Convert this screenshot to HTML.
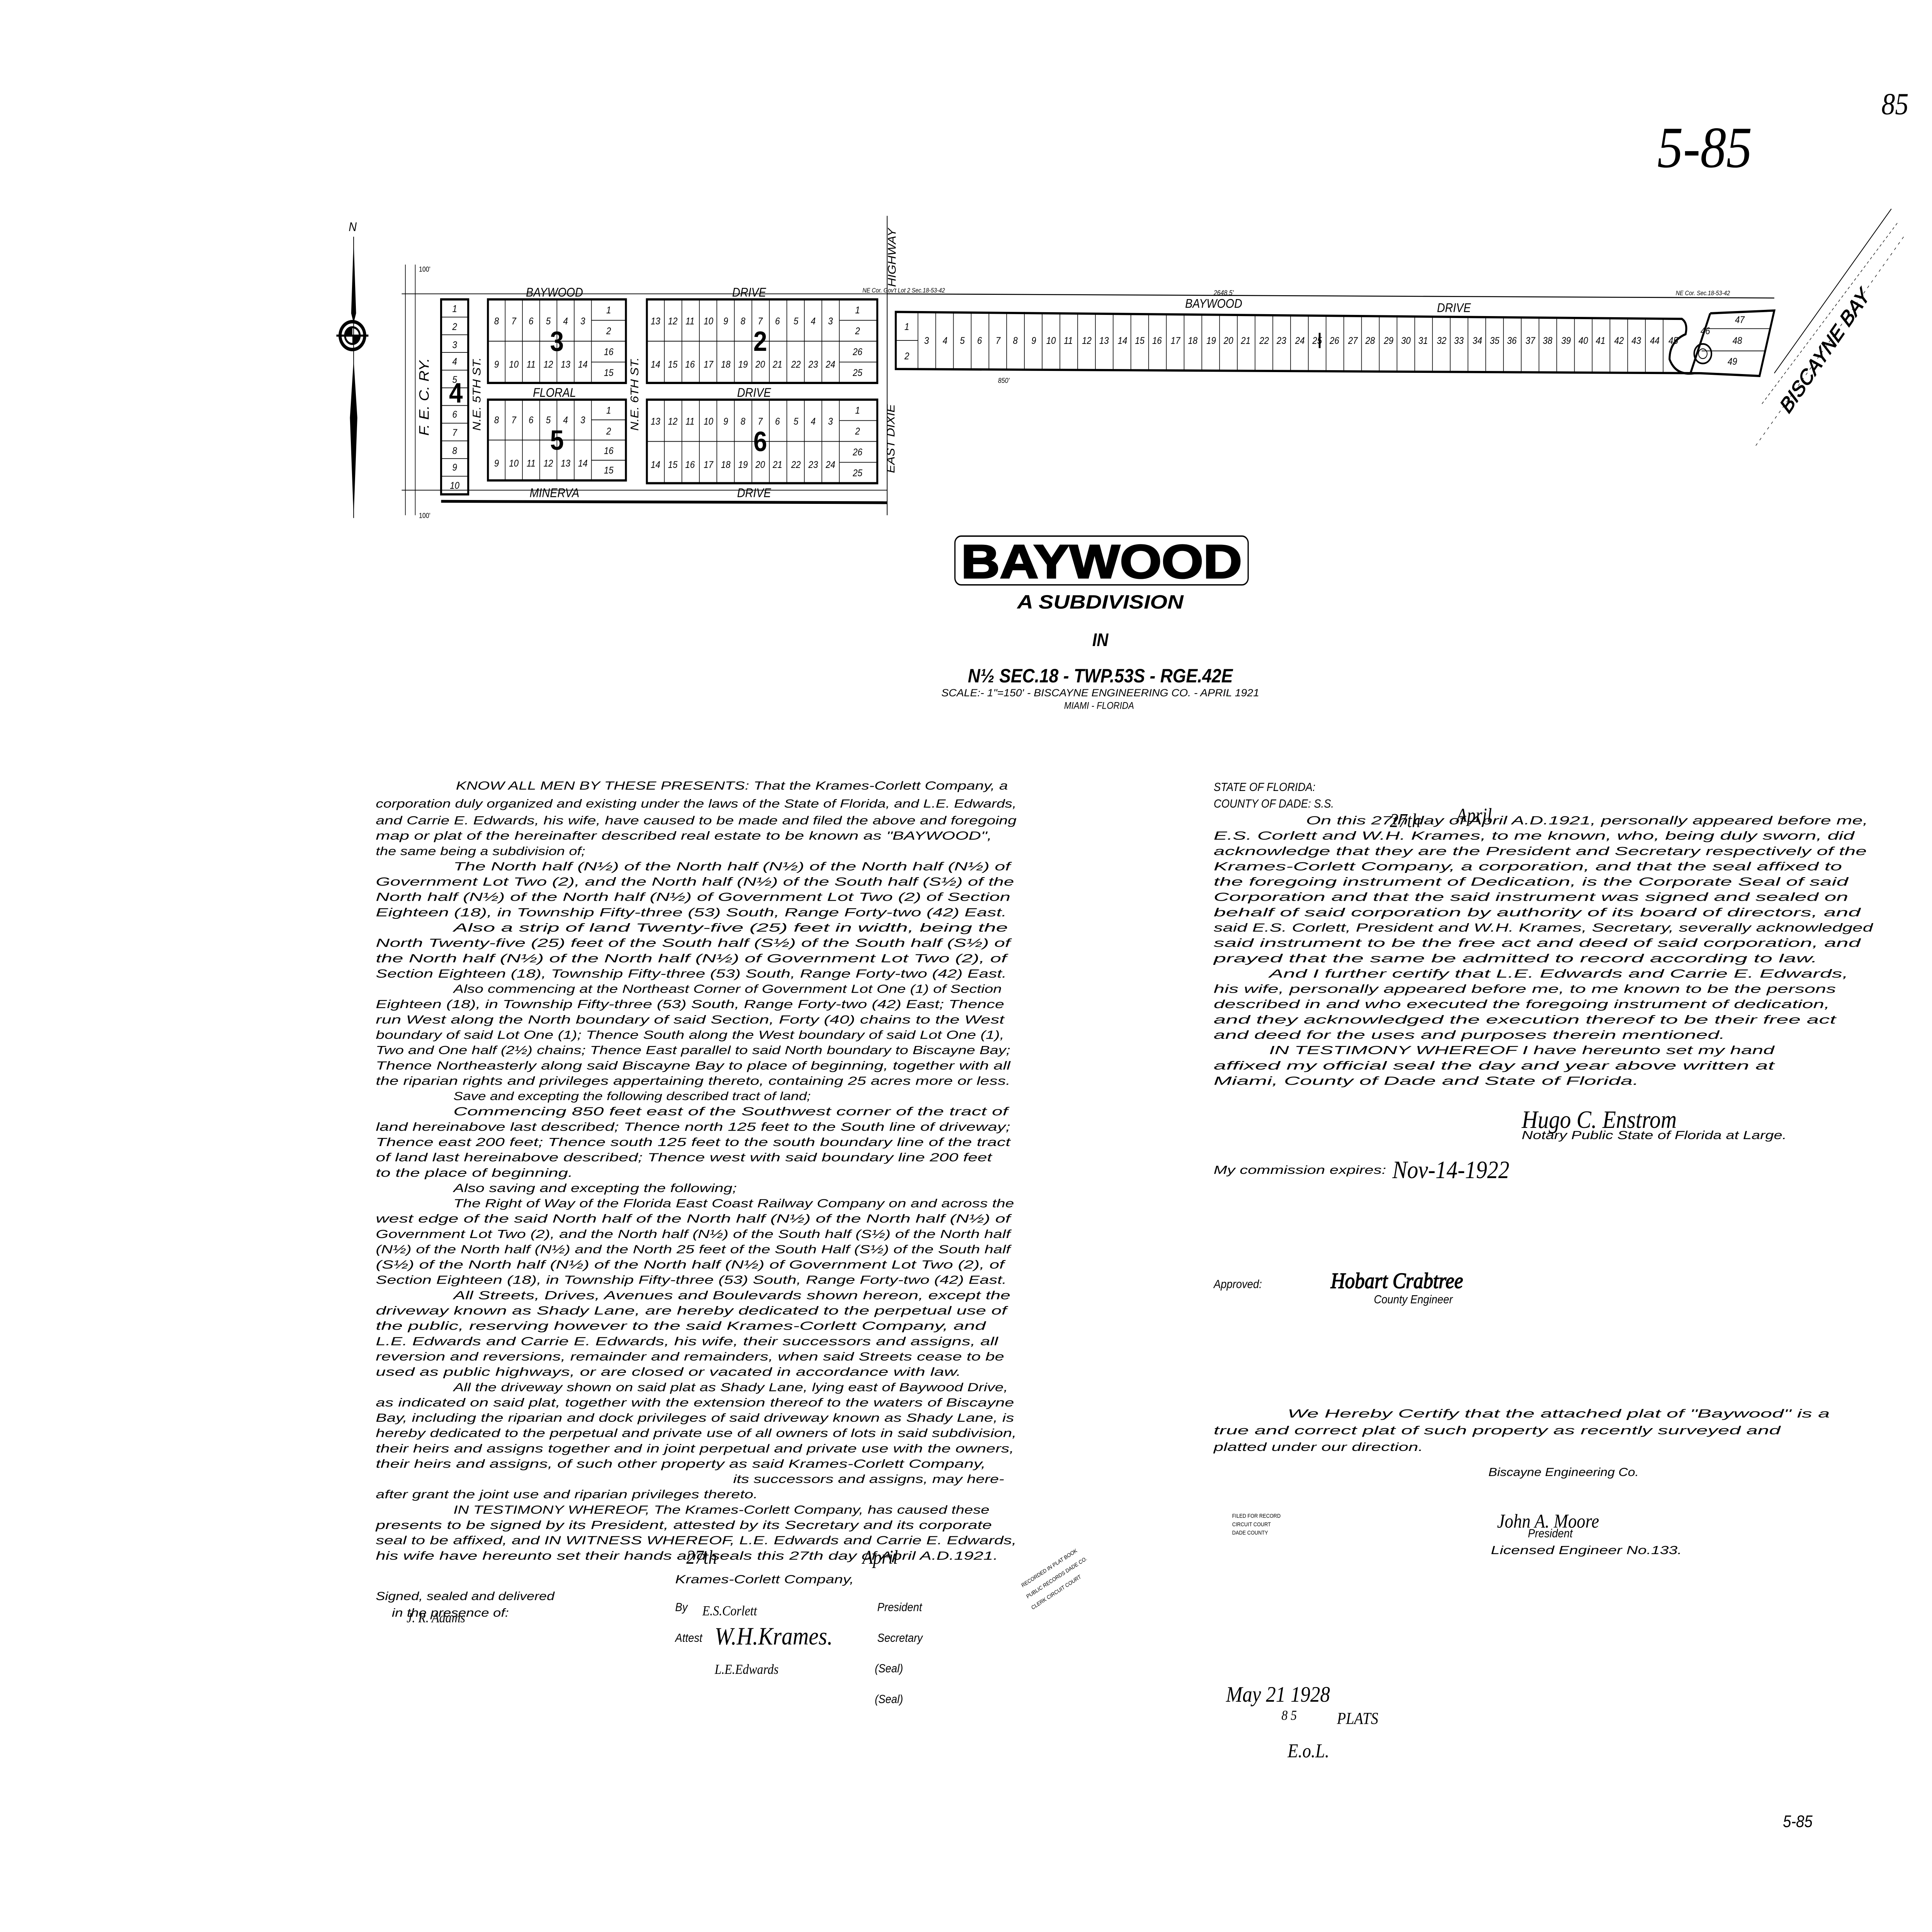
<!DOCTYPE html>
<html><head><meta charset="utf-8"><style>
html,body{margin:0;padding:0;background:#fff;width:100%;height:100%;overflow:hidden;}
svg{display:block;width:100vw;height:100vh;}
text{font-family:"Liberation Sans",sans-serif;fill:#000;}
.t{font-style:italic;font-size:8.6px;}
.n{font-size:7px;font-style:italic;text-anchor:middle;}
.s{font-size:9px;font-style:italic;text-anchor:middle;}
.big{font-size:20px;font-weight:bold;text-anchor:middle;}
.ln{stroke:#000;stroke-width:0.5;fill:none;}
.th{stroke:#000;stroke-width:1.6;fill:none;}
.hw{font-family:"Liberation Serif",serif;font-style:italic;}
</style></head><body>
<svg viewBox="0 0 1568 1387.4" preserveAspectRatio="none" xmlns="http://www.w3.org/2000/svg">
<rect width="1568" height="1387.4" fill="#fff"/>
<text x="1345" y="120" class="hw" font-size="42">5-85</text>
<text x="1527" y="82" class="hw" font-size="22">85</text>
<text x="1447" y="1312" font-size="12" font-style="italic">5-85</text>

<text x="283" y="166" font-size="9" font-style="italic">N</text>
<line x1="287" y1="170" x2="287" y2="372" stroke="#000" stroke-width="0.6"/>
<path d="M287 172 L285 225 L287 232 L289 225 Z" fill="#000"/>
<path d="M287 372 L284 300 L287 258 L290 300 Z" fill="#000"/>
<circle cx="286" cy="241" r="10" fill="none" stroke="#000" stroke-width="2.5"/>
<circle cx="286" cy="241" r="6" fill="none" stroke="#000" stroke-width="1.5"/>
<path d="M286 235 A6 6 0 0 0 280 241 L286 241Z M286 241 L292 241 A6 6 0 0 1 286 247Z" fill="#000"/>
<line x1="273" y1="241" x2="299" y2="241" stroke="#000" stroke-width="1.5"/>

<path class="ln" d="M329 190V370 M337 190V370 M326 211H720 M326 352H720"/>
<text x="340" y="195" font-size="5">100'</text>
<text x="340" y="372" font-size="5">100'</text>
<text transform="translate(348,285) rotate(-90)" font-size="11" font-style="italic" text-anchor="middle">F. E. C.  RY.</text>

<rect x="358" y="215" width="22" height="140" class="th" stroke-width="1.2"/>
<path class="ln" d="M358 227.7H380 M358 240.4H380 M358 253.1H380 M358 265.8H380 M358 278.5H380 M358 291.2H380 M358 303.9H380 M358 316.6H380 M358 329.3H380 M358 342H380"/>
<g class="n"><text x="369" y="224">1</text><text x="369" y="237">2</text><text x="369" y="250">3</text><text x="369" y="262">4</text><text x="369" y="275">5</text><text x="369" y="300">6</text><text x="369" y="313">7</text><text x="369" y="326">8</text><text x="369" y="338">9</text><text x="369" y="351">10</text></g>
<text x="370" y="289" class="big">4</text>

<text x="450" y="213" class="s">BAYWOOD</text>
<text x="608" y="213" class="s">DRIVE</text>
<text x="450" y="285" class="s">FLORAL</text>
<text x="612" y="285" class="s">DRIVE</text>
<text x="450" y="357" class="s">MINERVA</text>
<text x="612" y="357" class="s">DRIVE</text>
<text transform="translate(390,283) rotate(-90)" class="s">N.E. 5TH ST.</text>
<text transform="translate(518,283) rotate(-90)" class="s">N.E. 6TH ST.</text>
<text transform="translate(727,185) rotate(-90)" class="s">HIGHWAY</text>
<text transform="translate(726,315) rotate(-90)" class="s">EAST DIXIE</text>
<line x1="720" y1="155" x2="720" y2="370" stroke="#000" stroke-width="0.6"/>
<line x1="358" y1="360" x2="720" y2="361" stroke="#000" stroke-width="2"/>

<rect x="396" y="215" width="112" height="60" class="th"/>
<path class="ln" d="M410 215V275M424 215V275M438 215V275M452 215V275M466 215V275M480 215V275M396 245H480M480 230H508M480 245H508M480 260H508"/>
<g class="n"><text x="403" y="233">8</text><text x="417" y="233">7</text><text x="431" y="233">6</text><text x="445" y="233">5</text><text x="459" y="233">4</text><text x="473" y="233">3</text>
<text x="403" y="264">9</text><text x="417" y="264">10</text><text x="431" y="264">11</text><text x="445" y="264">12</text><text x="459" y="264">13</text><text x="473" y="264">14</text>
<text x="494" y="225">1</text><text x="494" y="240">2</text><text x="494" y="255">16</text><text x="494" y="270">15</text></g>
<text x="452" y="252" class="big">3</text>
<rect x="396" y="287" width="112" height="58" class="th"/>
<path class="ln" d="M410 287V345M424 287V345M438 287V345M452 287V345M466 287V345M480 287V345M396 316H480M480 301.5H508M480 316H508M480 330.5H508"/>
<g class="n"><text x="403" y="304">8</text><text x="417" y="304">7</text><text x="431" y="304">6</text><text x="445" y="304">5</text><text x="459" y="304">4</text><text x="473" y="304">3</text>
<text x="403" y="335">9</text><text x="417" y="335">10</text><text x="431" y="335">11</text><text x="445" y="335">12</text><text x="459" y="335">13</text><text x="473" y="335">14</text>
<text x="494" y="297">1</text><text x="494" y="312">2</text><text x="494" y="326">16</text><text x="494" y="340">15</text></g>
<text x="452" y="323" class="big">5</text>
<rect x="525" y="215" width="187" height="60" class="th"/>
<path class="ln" d="M539.2 215V275M553.4 215V275M567.6 215V275M581.8 215V275M596 215V275M610.2 215V275M624.4 215V275M638.6 215V275M652.8 215V275M667 215V275M681.2 215V275M525 245H681M681 230H712M681 245H712M681 260H712"/>
<g class="n"><text x="532" y="233">13</text><text x="546" y="233">12</text><text x="560" y="233">11</text><text x="575" y="233">10</text><text x="589" y="233">9</text><text x="603" y="233">8</text><text x="617" y="233">7</text><text x="631" y="233">6</text><text x="646" y="233">5</text><text x="660" y="233">4</text><text x="674" y="233">3</text>
<text x="532" y="264">14</text><text x="546" y="264">15</text><text x="560" y="264">16</text><text x="575" y="264">17</text><text x="589" y="264">18</text><text x="603" y="264">19</text><text x="617" y="264">20</text><text x="631" y="264">21</text><text x="646" y="264">22</text><text x="660" y="264">23</text><text x="674" y="264">24</text>
<text x="696" y="225">1</text><text x="696" y="240">2</text><text x="696" y="255">26</text><text x="696" y="270">25</text></g>
<text x="617" y="252" class="big">2</text>
<rect x="525" y="287" width="187" height="60" class="th"/>
<path class="ln" d="M539.2 287V347M553.4 287V347M567.6 287V347M581.8 287V347M596 287V347M610.2 287V347M624.4 287V347M638.6 287V347M652.8 287V347M667 287V347M681.2 287V347M525 317H681M681 302H712M681 317H712M681 332H712"/>
<g class="n"><text x="532" y="305">13</text><text x="546" y="305">12</text><text x="560" y="305">11</text><text x="575" y="305">10</text><text x="589" y="305">9</text><text x="603" y="305">8</text><text x="617" y="305">7</text><text x="631" y="305">6</text><text x="646" y="305">5</text><text x="660" y="305">4</text><text x="674" y="305">3</text>
<text x="532" y="336">14</text><text x="546" y="336">15</text><text x="560" y="336">16</text><text x="575" y="336">17</text><text x="589" y="336">18</text><text x="603" y="336">19</text><text x="617" y="336">20</text><text x="631" y="336">21</text><text x="646" y="336">22</text><text x="660" y="336">23</text><text x="674" y="336">24</text>
<text x="696" y="297">1</text><text x="696" y="312">2</text><text x="696" y="327">26</text><text x="696" y="342">25</text></g>
<text x="617" y="324" class="big">6</text>

<line x1="720" y1="211" x2="1440" y2="214" stroke="#000" stroke-width="0.7"/>
<text x="700" y="210" font-size="4.5" font-style="italic">NE Cor. Gov't Lot 2 Sec.18-53-42</text>
<text x="1360" y="212" font-size="4.5" font-style="italic">NE Cor. Sec.18-53-42</text>
<text x="985" y="221" class="s">BAYWOOD</text>
<text x="1180" y="224" class="s">DRIVE</text>
<text x="985" y="212" font-size="5" font-style="italic">2648.5'</text>
<path d="M727 224 L1365 229 Q1370 232 1368 240 Q1355 245 1355 258 Q1360 270 1375 268 L1380 268 L727 265 Z" class="th"/>
<path class="ln" d="M727 244.5H745 M745 224V265 M759.4 224V265 M773.8 224V265 M788.2 224V265 M802.6 224V265 M817 224V265 M831.4 224V265 M845.8 225V265 M860.2 225V265 M874.6 225V265 M889 225V266 M903.4 225V266 M917.8 225V266 M932.2 225V266 M946.6 226V266 M961 226V266 M975.4 226V266 M989.8 226V266 M1004.2 226V266 M1018.6 226V266 M1033 226V266 M1047.4 226V266 M1061.8 226V266 M1076.2 227V267 M1090.6 227V267 M1105 227V267 M1119.4 227V267 M1133.8 227V267 M1148.2 227V267 M1162.6 227V267 M1177 228V267 M1191.4 228V267 M1205.8 228V267 M1220.2 228V267 M1234.6 228V268 M1249 228V268 M1263.4 228V268 M1277.8 228V268 M1292.2 229V268 M1306.6 229V268 M1321 229V268 M1335.4 229V268 M1349.8 229V268"/>
<g class="n" font-size="6.5"><text x="736" y="237">1</text><text x="736" y="258">2</text>
<text x="752" y="247">3</text><text x="767" y="247">4</text><text x="781" y="247">5</text><text x="795" y="247">6</text><text x="810" y="247">7</text><text x="824" y="247">8</text><text x="839" y="247">9</text><text x="853" y="247">10</text><text x="867" y="247">11</text><text x="882" y="247">12</text><text x="896" y="247">13</text><text x="911" y="247">14</text><text x="925" y="247">15</text><text x="939" y="247">16</text><text x="954" y="247">17</text><text x="968" y="247">18</text><text x="983" y="247">19</text><text x="997" y="247">20</text><text x="1011" y="247">21</text><text x="1026" y="247">22</text><text x="1040" y="247">23</text><text x="1055" y="247">24</text><text x="1069" y="247">25</text><text x="1083" y="247">26</text><text x="1098" y="247">27</text><text x="1112" y="247">28</text><text x="1127" y="247">29</text><text x="1141" y="247">30</text><text x="1155" y="247">31</text><text x="1170" y="247">32</text><text x="1184" y="247">33</text><text x="1199" y="247">34</text><text x="1213" y="247">35</text><text x="1227" y="247">36</text><text x="1242" y="247">37</text><text x="1256" y="247">38</text><text x="1271" y="247">39</text><text x="1285" y="247">40</text><text x="1299" y="247">41</text><text x="1314" y="247">42</text><text x="1328" y="247">43</text><text x="1343" y="247">44</text><text x="1358" y="247">45</text>
<text x="1384" y="240">46</text><text x="1412" y="232">47</text><text x="1410" y="247">48</text><text x="1406" y="262">49</text></g>
<line x1="1071" y1="239" x2="1071" y2="250" stroke="#000" stroke-width="1.5"/>
<circle cx="1382" cy="254" r="7" fill="none" stroke="#000" stroke-width="1.2"/>
<circle cx="1382" cy="254" r="3.5" fill="none" stroke="#000" stroke-width="0.6"/>
<path class="th" stroke-width="1.2" d="M1388 225 L1440 223 L1428 270 L1380 268 M1388 225 L1372 268"/>
<path class="ln" d="M1385 236H1437 M1381 252H1433"/>
<text x="810" y="275" font-size="5" font-style="italic">850'</text>
<line x1="1440" y1="268" x2="1535" y2="150" stroke="#000" stroke-width="0.6"/>
<line x1="1430" y1="290" x2="1540" y2="160" stroke="#000" stroke-width="0.4" stroke-dasharray="2,2"/>
<line x1="1425" y1="320" x2="1545" y2="170" stroke="#000" stroke-width="0.4" stroke-dasharray="2,3"/>
<text transform="translate(1485,255) rotate(-52)" font-size="15" font-style="italic" text-anchor="middle" fill="none" stroke="#000" stroke-width="0.5">BISCAYNE  BAY</text>

<rect x="775" y="385" width="238" height="35" rx="5" fill="none" stroke="#000" stroke-width="1"/>
<text x="894" y="415" font-size="34" font-weight="bold" text-anchor="middle" textLength="228" lengthAdjust="spacingAndGlyphs" fill="#444" stroke="#000" stroke-width="1">BAYWOOD</text>
<text x="893" y="437" font-size="14" font-weight="bold" font-style="italic" text-anchor="middle" textLength="135" lengthAdjust="spacingAndGlyphs">A SUBDIVISION</text>
<text x="893" y="464" font-size="13" font-weight="bold" font-style="italic" text-anchor="middle">IN</text>
<text x="893" y="490" font-size="14" font-weight="bold" font-style="italic" text-anchor="middle" textLength="215" lengthAdjust="spacingAndGlyphs">N½ SEC.18 - TWP.53S - RGE.42E</text>
<text x="893" y="500" font-size="7.5" font-style="italic" text-anchor="middle" textLength="258" lengthAdjust="spacingAndGlyphs">SCALE:- 1"=150' - BISCAYNE ENGINEERING CO. - APRIL 1921</text>
<text x="892" y="509" font-size="7" font-style="italic" text-anchor="middle">MIAMI - FLORIDA</text>

<g class="t">
<text lengthAdjust="spacingAndGlyphs" x="370" y="567" textLength="448">KNOW ALL MEN BY THESE PRESENTS: That the Krames-Corlett Company, a</text>
<text lengthAdjust="spacingAndGlyphs" x="305" y="580" textLength="520">corporation duly organized and existing under the laws of the State of Florida, and L.E. Edwards,</text>
<text lengthAdjust="spacingAndGlyphs" x="305" y="592" textLength="520">and Carrie E. Edwards, his wife, have caused to be made and filed the above and foregoing</text>
<text lengthAdjust="spacingAndGlyphs" x="305" y="603" textLength="500">map or plat of the hereinafter described real estate to be known as "BAYWOOD",</text>
<text lengthAdjust="spacingAndGlyphs" x="305" y="614" textLength="170">the same being a subdivision of;</text>
<text lengthAdjust="spacingAndGlyphs" x="368" y="625" textLength="452">The North half (N½) of the North half (N½) of the North half (N½) of</text>
<text lengthAdjust="spacingAndGlyphs" x="305" y="636" textLength="518">Government Lot Two (2), and the North half (N½) of the South half (S½) of the</text>
<text lengthAdjust="spacingAndGlyphs" x="305" y="647" textLength="515">North half (N½) of the North half (N½) of Government Lot Two (2) of Section</text>
<text lengthAdjust="spacingAndGlyphs" x="305" y="658" textLength="512">Eighteen (18), in Township Fifty-three (53) South, Range Forty-two (42) East.</text>
<text lengthAdjust="spacingAndGlyphs" x="368" y="669" textLength="450">Also a strip of land Twenty-five (25) feet in width, being the</text>
<text lengthAdjust="spacingAndGlyphs" x="305" y="680" textLength="515">North Twenty-five (25) feet of the South half (S½) of the South half (S½) of</text>
<text lengthAdjust="spacingAndGlyphs" x="305" y="691" textLength="512">the North half (N½) of the North half (N½) of Government Lot Two (2), of</text>
<text lengthAdjust="spacingAndGlyphs" x="305" y="702" textLength="512">Section Eighteen (18), Township Fifty-three (53) South, Range Forty-two (42) East.</text>
<text lengthAdjust="spacingAndGlyphs" x="368" y="713" textLength="445">Also commencing at the Northeast Corner of Government Lot One (1) of Section</text>
<text lengthAdjust="spacingAndGlyphs" x="305" y="724" textLength="510">Eighteen (18), in Township Fifty-three (53) South, Range Forty-two (42) East; Thence</text>
<text lengthAdjust="spacingAndGlyphs" x="305" y="735" textLength="510">run West along the North boundary of said Section, Forty (40) chains to the West</text>
<text lengthAdjust="spacingAndGlyphs" x="305" y="746" textLength="510">boundary of said Lot One (1); Thence South along the West boundary of said Lot One (1),</text>
<text lengthAdjust="spacingAndGlyphs" x="305" y="757" textLength="515">Two and One half (2½) chains; Thence East parallel to said North boundary to Biscayne Bay;</text>
<text lengthAdjust="spacingAndGlyphs" x="305" y="768" textLength="515">Thence Northeasterly along said Biscayne Bay to place of beginning, together with all</text>
<text lengthAdjust="spacingAndGlyphs" x="305" y="779" textLength="515">the riparian rights and privileges appertaining thereto, containing 25 acres more or less.</text>
<text lengthAdjust="spacingAndGlyphs" x="368" y="790" textLength="290">Save and excepting the following described tract of land;</text>
<text lengthAdjust="spacingAndGlyphs" x="368" y="801" textLength="450">Commencing 850 feet east of the Southwest corner of the tract of</text>
<text lengthAdjust="spacingAndGlyphs" x="305" y="812" textLength="515">land hereinabove last described; Thence north 125 feet to the South line of driveway;</text>
<text lengthAdjust="spacingAndGlyphs" x="305" y="823" textLength="515">Thence east 200 feet; Thence south 125 feet to the south boundary line of the tract</text>
<text lengthAdjust="spacingAndGlyphs" x="305" y="834" textLength="500">of land last hereinabove described; Thence west with said boundary line 200 feet</text>
<text lengthAdjust="spacingAndGlyphs" x="305" y="845" textLength="160">to the place of beginning.</text>
<text lengthAdjust="spacingAndGlyphs" x="368" y="856" textLength="230">Also saving and excepting the following;</text>
<text lengthAdjust="spacingAndGlyphs" x="368" y="867" textLength="455">The Right of Way of the Florida East Coast Railway Company on and across the</text>
<text lengthAdjust="spacingAndGlyphs" x="305" y="878" textLength="515">west edge of the said North half of the North half (N½) of the North half (N½) of</text>
<text lengthAdjust="spacingAndGlyphs" x="305" y="889" textLength="515">Government Lot Two (2), and the North half (N½) of the South half (S½) of the North half</text>
<text lengthAdjust="spacingAndGlyphs" x="305" y="900" textLength="515">(N½) of the North half (N½) and the North 25 feet of the South Half (S½) of the South half</text>
<text lengthAdjust="spacingAndGlyphs" x="305" y="911" textLength="510">(S½) of the North half (N½) of the North half (N½) of Government Lot Two (2), of</text>
<text lengthAdjust="spacingAndGlyphs" x="305" y="922" textLength="512">Section Eighteen (18), in Township Fifty-three (53) South, Range Forty-two (42) East.</text>
<text lengthAdjust="spacingAndGlyphs" x="368" y="933" textLength="452">All Streets, Drives, Avenues and Boulevards shown hereon, except the</text>
<text lengthAdjust="spacingAndGlyphs" x="305" y="944" textLength="512">driveway known as Shady Lane, are hereby dedicated to the perpetual use of</text>
<text lengthAdjust="spacingAndGlyphs" x="305" y="955" textLength="495">the public, reserving however to the said Krames-Corlett Company, and</text>
<text lengthAdjust="spacingAndGlyphs" x="305" y="966" textLength="505">L.E. Edwards and Carrie E. Edwards, his wife, their successors and assigns, all</text>
<text lengthAdjust="spacingAndGlyphs" x="305" y="977" textLength="510">reversion and reversions, remainder and remainders, when said Streets cease to be</text>
<text lengthAdjust="spacingAndGlyphs" x="305" y="988" textLength="475">used as public highways, or are closed or vacated in accordance with law.</text>
<text lengthAdjust="spacingAndGlyphs" x="368" y="999" textLength="450">All the driveway shown on said plat as Shady Lane, lying east of Baywood Drive,</text>
<text lengthAdjust="spacingAndGlyphs" x="305" y="1010" textLength="518">as indicated on said plat, together with the extension thereof to the waters of Biscayne</text>
<text lengthAdjust="spacingAndGlyphs" x="305" y="1021" textLength="518">Bay, including the riparian and dock privileges of said driveway known as Shady Lane, is</text>
<text lengthAdjust="spacingAndGlyphs" x="305" y="1032" textLength="520">hereby dedicated to the perpetual and private use of all owners of lots in said subdivision,</text>
<text lengthAdjust="spacingAndGlyphs" x="305" y="1043" textLength="518">their heirs and assigns together and in joint perpetual and private use with the owners,</text>
<text lengthAdjust="spacingAndGlyphs" x="305" y="1054" textLength="495">their heirs and assigns, of such other property as said Krames-Corlett Company,</text>
<text lengthAdjust="spacingAndGlyphs" x="595" y="1065" textLength="220">its successors and assigns, may here-</text>
<text lengthAdjust="spacingAndGlyphs" x="305" y="1076" textLength="310">after grant the joint use and riparian privileges thereto.</text>
<text lengthAdjust="spacingAndGlyphs" x="368" y="1087" textLength="435">IN TESTIMONY WHEREOF, The Krames-Corlett Company, has caused these</text>
<text lengthAdjust="spacingAndGlyphs" x="305" y="1098" textLength="500">presents to be signed by its President, attested by its Secretary and its corporate</text>
<text lengthAdjust="spacingAndGlyphs" x="305" y="1109" textLength="520">seal to be affixed, and IN WITNESS WHEREOF, L.E. Edwards and Carrie E. Edwards,</text>
<text lengthAdjust="spacingAndGlyphs" x="305" y="1120" textLength="505">his wife have hereunto set their hands and seals this 27th day of April A.D.1921.</text>
<text lengthAdjust="spacingAndGlyphs" x="305" y="1149" textLength="145">Signed, sealed and delivered</text>
<text lengthAdjust="spacingAndGlyphs" x="318" y="1161" textLength="95">in the presence of:</text>
<text lengthAdjust="spacingAndGlyphs" x="548" y="1137" textLength="145">Krames-Corlett Company,</text>
<text x="548" y="1157">By</text>
<text x="712" y="1157">President</text>
<text x="548" y="1179">Attest</text>
<text x="712" y="1179">Secretary</text>
<text x="710" y="1201">(Seal)</text>
<text x="710" y="1223">(Seal)</text>
</g>
<text x="580" y="1181" class="hw" font-size="18">W.H.Krames.</text>
<text x="557" y="1123" class="hw" font-size="14">27th</text>
<text x="700" y="1123" class="hw" font-size="14">April</text>
<text x="570" y="1160" class="hw" font-size="10" fill="#aaa">E.S.Corlett</text>
<text x="580" y="1202" class="hw" font-size="10" fill="#aaa">L.E.Edwards</text>
<text x="330" y="1165" class="hw" font-size="10" fill="#aaa">J. R. Adams</text>

<g class="t">
<text x="985" y="568">STATE OF FLORIDA:</text>
<text x="985" y="580">COUNTY OF DADE: S.S.</text>
<text lengthAdjust="spacingAndGlyphs" x="1060" y="592" textLength="456">On this 27th day of April A.D.1921, personally appeared before me,</text>
<text lengthAdjust="spacingAndGlyphs" x="985" y="603" textLength="520">E.S. Corlett and W.H. Krames, to me known, who, being duly sworn, did</text>
<text lengthAdjust="spacingAndGlyphs" x="985" y="614" textLength="530">acknowledge that they are the President and Secretary respectively of the</text>
<text lengthAdjust="spacingAndGlyphs" x="985" y="625" textLength="510">Krames-Corlett Company, a corporation, and that the seal affixed to</text>
<text lengthAdjust="spacingAndGlyphs" x="985" y="636" textLength="515">the foregoing instrument of Dedication, is the Corporate Seal of said</text>
<text lengthAdjust="spacingAndGlyphs" x="985" y="647" textLength="515">Corporation and that the said instrument was signed and sealed on</text>
<text lengthAdjust="spacingAndGlyphs" x="985" y="658" textLength="525">behalf of said corporation by authority of its board of directors, and</text>
<text lengthAdjust="spacingAndGlyphs" x="985" y="669" textLength="535">said E.S. Corlett, President and W.H. Krames, Secretary, severally acknowledged</text>
<text lengthAdjust="spacingAndGlyphs" x="985" y="680" textLength="525">said instrument to be the free act and deed of said corporation, and</text>
<text lengthAdjust="spacingAndGlyphs" x="985" y="691" textLength="490">prayed that the same be admitted to record according to law.</text>
<text lengthAdjust="spacingAndGlyphs" x="1030" y="702" textLength="470">And I further certify that L.E. Edwards and Carrie E. Edwards,</text>
<text lengthAdjust="spacingAndGlyphs" x="985" y="713" textLength="505">his wife, personally appeared before me, to me known to be the persons</text>
<text lengthAdjust="spacingAndGlyphs" x="985" y="724" textLength="500">described in and who executed the foregoing instrument of dedication,</text>
<text lengthAdjust="spacingAndGlyphs" x="985" y="735" textLength="505">and they acknowledged the execution thereof to be their free act</text>
<text lengthAdjust="spacingAndGlyphs" x="985" y="746" textLength="415">and deed for the uses and purposes therein mentioned.</text>
<text lengthAdjust="spacingAndGlyphs" x="1030" y="757" textLength="410">IN TESTIMONY WHEREOF I have hereunto set my hand</text>
<text lengthAdjust="spacingAndGlyphs" x="985" y="768" textLength="455">affixed my official seal the day and year above written at</text>
<text lengthAdjust="spacingAndGlyphs" x="985" y="779" textLength="345">Miami, County of Dade and State of Florida.</text>
<text lengthAdjust="spacingAndGlyphs" x="1235" y="818" textLength="215">Notary Public State of Florida at Large.</text>
<text lengthAdjust="spacingAndGlyphs" x="985" y="843" textLength="140">My commission expires:</text>
<text x="985" y="925">Approved:</text>
<text x="1115" y="936">County Engineer</text>
<text lengthAdjust="spacingAndGlyphs" x="1045" y="1018" textLength="440">We Hereby Certify that the attached plat of "Baywood" is a</text>
<text lengthAdjust="spacingAndGlyphs" x="985" y="1030" textLength="460">true and correct plat of such property as recently surveyed and</text>
<text lengthAdjust="spacingAndGlyphs" x="985" y="1042" textLength="170">platted under our direction.</text>
<text lengthAdjust="spacingAndGlyphs" x="1208" y="1060" textLength="122">Biscayne Engineering Co.</text>
<text x="1240" y="1104">President</text>
<text lengthAdjust="spacingAndGlyphs" x="1210" y="1116" textLength="155">Licensed Engineer No.133.</text>
</g>
<text x="1128" y="594" class="hw" font-size="14">27th</text>
<text x="1182" y="590" class="hw" font-size="14">April</text>
<text x="1235" y="810" class="hw" font-size="18">Hugo C. Enstrom</text>
<text x="1130" y="846" class="hw" font-size="18">Nov-14-1922</text>
<text x="1080" y="925" class="hw" font-size="16" fill="none" stroke="#000" stroke-width="0.5">Hobart Crabtree</text>
<text x="1215" y="1097" class="hw" font-size="14">John A. Moore</text>
<text x="995" y="1222" class="hw" font-size="16">May 21 1928</text>
<text x="1085" y="1238" class="hw" font-size="12">PLATS</text>
<text x="1040" y="1235" class="hw" font-size="10">8 5</text>
<text x="1045" y="1262" class="hw" font-size="14">E.o.L.</text>
<g fill="#bbb" font-size="4"><text transform="translate(830,1140) rotate(-30)">RECORDED IN PLAT BOOK</text><text transform="translate(834,1148) rotate(-30)">PUBLIC RECORDS DADE CO.</text><text transform="translate(838,1156) rotate(-30)">CLERK CIRCUIT COURT</text></g>
<g fill="#bbb" font-size="4"><text x="1000" y="1090">FILED FOR RECORD</text><text x="1000" y="1096">CIRCUIT COURT</text><text x="1000" y="1102">DADE COUNTY</text></g>
</svg>
</body></html>
